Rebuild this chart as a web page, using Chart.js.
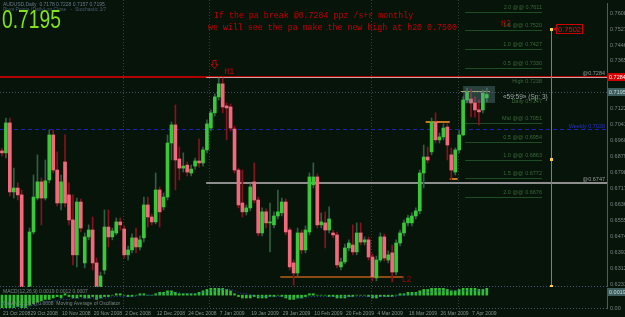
<!DOCTYPE html>
<html><head><meta charset="utf-8">
<script src="https://cdn.jsdelivr.net/npm/chart.js@4.4.0/dist/chart.umd.min.js"></script>
<style>
html,body{margin:0;padding:0;background:#06140a;overflow:hidden}
#wrap{position:relative;width:625px;height:317px;background:#06140a}
#c1{position:absolute;left:0;top:0}
#c2{position:absolute;left:0;top:287px}
</style></head><body>
<div id="wrap"><canvas id="c1" width="625" height="287"></canvas><canvas id="c2" width="625" height="30"></canvas></div>
<script>
// ---------- DATA (AUDUSD, Daily) ----------
const openP  = [0.6909,0.6899,0.7051,0.6701,0.6721,0.6686,0.6153,0.6120,0.6498,0.6670,0.6752,0.6670,0.6762,0.6990,0.6812,0.6645,0.6853,0.6686,0.6559,0.6382,
0.6650,0.6341,0.6473,0.6508,0.6341,0.6204,0.6305,0.6523,0.6473,0.6493,0.6549,0.6513,0.6382,0.6407,0.6468,0.6422,0.6468,0.6635,0.6574,0.6549,
0.6711,0.6625,0.6675,0.6949,0.7041,0.6868,0.6822,0.6837,0.6797,0.6832,0.6858,0.6848,0.6914,0.7025,0.7102,0.7183,0.7249,0.7137,0.7132,0.7020,
0.6812,0.6645,0.6600,0.6620,0.6752,0.6660,0.6493,0.6600,0.6544,0.6534,0.6579,0.6595,0.6650,0.6508,0.6341,0.6290,0.6493,0.6407,0.6498,0.6737,
0.6777,0.6534,0.6544,0.6508,0.6493,0.6483,0.6321,0.6346,0.6417,0.6432,0.6397,0.6493,0.6447,0.6458,0.6371,0.6265,0.6356,0.6473,0.6356,0.6392,
0.6295,0.6442,0.6493,0.6544,0.6544,0.6579,0.6605,0.6797,0.6878,0.6904,0.7056,0.6965,0.6980,0.7030,0.6889,0.6802,0.6914,0.6990,0.7167,0.7172,
0.7152,0.7117,0.7117,0.7178];
const highP  = [0.6924,0.7076,0.7076,0.6822,0.6747,0.6711,0.6200,0.6518,0.6787,0.6889,0.6772,0.6863,0.7015,0.7015,0.6904,0.6787,0.6990,0.6747,0.6686,0.6670,
0.6665,0.6493,0.6534,0.6574,0.6366,0.6295,0.6610,0.6610,0.6518,0.6569,0.6569,0.6529,0.6427,0.6488,0.6518,0.6478,0.6675,0.6675,0.6589,0.6797,
0.6726,0.6696,0.6990,0.7056,0.7142,0.6929,0.6899,0.6853,0.6837,0.6873,0.6970,0.6929,0.7066,0.7117,0.7198,0.7279,0.7279,0.7152,0.7147,0.7035,
0.6822,0.6812,0.6635,0.6742,0.6848,0.6675,0.6620,0.6615,0.6645,0.6600,0.6711,0.6670,0.6665,0.6518,0.6356,0.6518,0.6508,0.6529,0.6797,0.6848,
0.6792,0.6595,0.6600,0.6625,0.6508,0.6498,0.6366,0.6437,0.6458,0.6534,0.6544,0.6544,0.6473,0.6473,0.6387,0.6376,0.6493,0.6488,0.6402,0.6432,
0.6458,0.6508,0.6559,0.6584,0.6595,0.6620,0.6812,0.6939,0.6929,0.7076,0.7102,0.7000,0.7046,0.7046,0.6924,0.6924,0.7015,0.7183,0.7228,0.7223,
0.7183,0.7167,0.7218,0.7228];
const lowP   = [0.6883,0.6873,0.6681,0.6670,0.6660,0.6102,0.6010,0.6080,0.6488,0.6660,0.6534,0.6660,0.6747,0.6797,0.6630,0.6610,0.6625,0.6534,0.6331,0.6321,
0.6498,0.6316,0.6458,0.6305,0.6153,0.6163,0.6285,0.6422,0.6458,0.6483,0.6508,0.6366,0.6356,0.6392,0.6392,0.6407,0.6447,0.6523,0.6534,0.6539,
0.6523,0.6610,0.6660,0.6863,0.6711,0.6762,0.6802,0.6782,0.6782,0.6817,0.6827,0.6832,0.6899,0.7010,0.7086,0.7167,0.7102,0.6965,0.7010,0.6797,
0.6620,0.6574,0.6584,0.6605,0.6645,0.6478,0.6478,0.6518,0.6397,0.6518,0.6564,0.6579,0.6483,0.6305,0.6229,0.6275,0.6387,0.6392,0.6483,0.6721,
0.6518,0.6518,0.6417,0.6493,0.6468,0.6316,0.6305,0.6336,0.6402,0.6382,0.6382,0.6432,0.6432,0.6356,0.6250,0.6250,0.6346,0.6351,0.6341,0.6245,
0.6280,0.6427,0.6478,0.6529,0.6529,0.6564,0.6590,0.6721,0.6848,0.6889,0.6949,0.6949,0.6965,0.6863,0.6762,0.6787,0.6899,0.6985,0.7152,0.7081,
0.7081,0.7041,0.7102,0.7157];
const closeP = [0.6899,0.7051,0.6701,0.6721,0.6686,0.6153,0.6120,0.6498,0.6675,0.6752,0.6670,0.6757,0.6990,0.6812,0.6645,0.6752,0.6645,0.6559,0.6382,0.6650,
0.6518,0.6473,0.6508,0.6341,0.6204,0.6275,0.6523,0.6473,0.6503,0.6549,0.6534,0.6382,0.6407,0.6468,0.6422,0.6458,0.6635,0.6574,0.6549,0.6711,
0.6600,0.6675,0.6949,0.7041,0.6863,0.6822,0.6832,0.6802,0.6817,0.6858,0.6848,0.6914,0.7046,0.7102,0.7183,0.7249,0.7132,0.7127,0.7025,0.6812,
0.6635,0.6600,0.6620,0.6726,0.6660,0.6493,0.6600,0.6544,0.6549,0.6579,0.6600,0.6650,0.6498,0.6321,0.6290,0.6493,0.6407,0.6508,0.6777,0.6777,
0.6534,0.6549,0.6508,0.6564,0.6483,0.6331,0.6346,0.6417,0.6442,0.6397,0.6493,0.6447,0.6458,0.6371,0.6270,0.6356,0.6473,0.6366,0.6382,0.6295,
0.6442,0.6493,0.6544,0.6569,0.6579,0.6605,0.6797,0.6878,0.6863,0.7056,0.6965,0.6980,0.7025,0.6939,0.6812,0.6914,0.6990,0.7167,0.7208,0.7152,
0.7117,0.7107,0.7203,0.7195];
// oscillator panel
const histVals = [-11,-10,-11,-9, -8,-10,-9,-7,-6,-5, -4,-3,-3,-2,
 -1,-2,1,-1,-2,-2,-1,-2,-2,-1,-3,-2,-1,-1,0,1,1,0,-1,-1,
 0,1,1,0,0,1,2,2,3, 3,2,1,1,1,1,1,2, 3,4,5,6,6,5,4,3,
 1,-1,-2,-2,-2,-1,-2,-2,-2, -1,-1,0,-1,-2,-3,-3,-2,-2,-1,
 1,1,0,0,0,-1,-1,-2,-2,-2, -1,-1,0,0,0,-1,-2,-2,-1,-1,-1,-1,
 0,1,1,2,2,2,3,4,4,5,5,5,5, 4,3,3,4,5,5,5,5,4,4,5];
const signalVals = [-6,-7,-7,-8,-8,-8,-8,-8,-7,-7,-6,-5,-5,-4,
 -4,-3,-3,-3,-2,-2,-2,-2,-2,-2,-2,-2,-2,-2,-1,-1,-1,-1,-1,-1,
 -1,0,0,0,0,0,1,1,1,2,2,2,1,1,1,1,1,
 2,2,3,3,4,4,4,4,3,2,1,1,0,0,-1,-1,-1,
 -1,-1,-1,-1,-1,-1,-2,-2,-2,-2,-1,-1,-1,-1,-1,-1,-1,-1,-1,-1,-1,-1,-1,-1,-1,-1,-1,-1,-1,-1,-1,-1,
 -1,0,0,0,1,1,1,2,2,2,3,3,3,3,3,3,3,3,3,3,3,3,3,3];
// tick labels
const priceTicks = [0.7608,0.7527,0.7446,0.7365,0.7122,0.7041,0.6960,0.6879,0.6798,0.6717,0.6636,0.6555,0.6474,0.6393,0.6312,0.6231];
const dateTickIdx = [0,7,15,23,31,39,47,55,63,71,79,87,95,103,111,119];
const dateTickLbl = ['21 Oct 2008','29 Oct 2008','10 Nov 2008','20 Nov 2008','2 Dec 2008','12 Dec 2008','24 Dec 2008','7 Jan 2009',
 '19 Jan 2009','29 Jan 2009','10 Feb 2009','20 Feb 2009','4 Mar 2009','16 Mar 2009','26 Mar 2009','7 Apr 2009'];
// levels
const resistance = 0.7284, support = 0.6747, weeklyLvl = 0.7020, bidLinePrice = 0.7208, lastPriceText = '0.7195';
const l2Lvl = 0.6270, rangeTop = 0.7056, rangeBot = 0.6767, goldLvl = 0.7213, boxTop = 0.7238, boxBot = 0.7152;
const targetMarks = [0.7527, 0.6869, 0.6224], targetText = '0.7502';
const fibLevels = [0.7611,0.7520,0.7427,0.7330,0.7238,0.7051,0.6954,0.6863,0.6772,0.6676];
const fibLabels = ['2.0 @@ 0.7611','1.5 @@ 0.7520','1.0 @@ 0.7427','0.5 @@ 0.7330','High 0.7238','Mid @@ 0.7051','0.5 @@ 0.6954','1.0 @@ 0.6863','1.5 @@ 0.6772','2.0 @@ 0.6676'];
const sepIdx = [30.7, 52.6, 93.6, 115.6];

// ---------- LAYOUT / STYLE ----------
const BG = '#06140a';
const X_MIN = -0.5, X_MAX = 153.5;
const idx = openP.map((_, i) => i);
const isBull = idx.map(i => closeP[i] >= openP[i]);
const F = (s, fam) => s + 'px ' + (fam || '"Liberation Sans", Arial, sans-serif');
const MONO = '"Liberation Mono", "DejaVu Sans Mono", monospace';

function txt(ctx, s, x, y, col, font, align, base) {
  ctx.save(); ctx.fillStyle = col; ctx.font = font; ctx.textAlign = align || 'left'; ctx.textBaseline = base || 'alphabetic';
  ctx.fillText(s, x, y); ctx.restore();
}
function mkHL(ctx, ys) {
  return (x1, x2, p, col, w, dash) => {
    ctx.save(); ctx.strokeStyle = col; ctx.lineWidth = w; ctx.setLineDash(dash || []);
    let y = Math.round(ys.getPixelForValue(p)); if (w % 2 === 1) y += 0.5;
    ctx.beginPath(); ctx.moveTo(x1, y); ctx.lineTo(x2, y); ctx.stroke(); ctx.restore();
  };
}

const mainPlugin = {
  id: 'mainOv',
  beforeDraw(c) { const ctx = c.ctx; ctx.save(); ctx.fillStyle = BG; ctx.fillRect(0, 0, c.width, c.height); ctx.restore(); },
  beforeDatasetsDraw(c) {
    const ctx = c.ctx, a = c.chartArea, xs = c.scales.x, ys = c.scales.y;
    const X = v => xs.getPixelForValue(v), Y = v => ys.getPixelForValue(v);
    const hl = mkHL(ctx, ys);
    ctx.save(); ctx.strokeStyle = 'rgba(120,135,135,0.4)'; ctx.setLineDash([1, 2]); ctx.lineWidth = 1;
    sepIdx.forEach(v => { const x = Math.round(X(v)) + 0.5; ctx.beginPath(); ctx.moveTo(x, 0); ctx.lineTo(x, a.bottom); ctx.stroke(); });
    ctx.restore();
    hl(a.left, a.right, bidLinePrice, '#3a4d6e', 1, [1, 2]);
    hl(a.left, a.right, weeklyLvl, '#1d22b4', 1, [4, 3]);
    hl(a.left, a.right, resistance, '#b30000', 2);
    hl(X(51.8), a.right, resistance, '#c4a4a4', 1);
    hl(X(51.8), a.right, support, '#8e8e8e', 2);
    fibLevels.forEach((p, k) => { if (k !== 4) hl(X(117.5), X(137.0), p, '#1f4d24', 1); });
    hl(X(70.6), X(101.9), l2Lvl, '#8a4a12', 2);
    hl(X(107.5), X(113.6), rangeTop, '#c27a1e', 2);
    hl(X(113.6), X(115.6), rangeBot, '#c27a1e', 2);
    hl(X(116.4), X(123.8), goldLvl, '#b9a050', 1);
    ctx.save(); ctx.strokeStyle = '#b07818'; ctx.lineWidth = 1;
    const vx = Math.round(X(139.3)) + 0.5;
    ctx.beginPath(); ctx.moveTo(vx, Y(targetMarks[0])); ctx.lineTo(vx, Y(targetMarks[2])); ctx.stroke(); ctx.restore();
  },
  afterDatasetsDraw(c) {
    const ctx = c.ctx, xs = c.scales.x, ys = c.scales.y;
    const X = v => xs.getPixelForValue(v), Y = v => ys.getPixelForValue(v);
    ctx.save(); ctx.fillStyle = 'rgba(110,145,155,0.35)';
    const bx1 = X(117.0), bx2 = X(125.1), by1 = Y(boxTop), by2 = Y(boxBot);
    ctx.fillRect(bx1, by1, bx2 - bx1, by2 - by1); ctx.restore();
  },
  afterDraw(c) {
    const ctx = c.ctx, a = c.chartArea, xs = c.scales.x, ys = c.scales.y;
    const X = v => xs.getPixelForValue(v), Y = v => ys.getPixelForValue(v);
    ctx.save(); ctx.strokeStyle = '#45557a'; ctx.setLineDash([1, 2]); ctx.lineWidth = 1;
    ctx.beginPath(); ctx.moveTo(a.left, a.bottom - 0.5); ctx.lineTo(a.right, a.bottom - 0.5); ctx.stroke(); ctx.restore();
    txt(ctx, 'AUDUSD,Daily  0.7178 0.7228 0.7157 0.7195', 3, 6, '#6a7a90', F(5));
    txt(ctx, 'Pivot Points (Daily) on Close   -  Stochastic 3/7', 3, 11, '#4a5a70', F(5));
    ctx.save(); ctx.translate(2, 28); ctx.scale(0.74, 1); txt(ctx, lastPriceText, 0, 0, '#82e21c', F(26)); ctx.restore();
    txt(ctx, 'If the pa break @0.7284 ppz /s+r monthly', 214, 18, '#c40000', F(8.3, MONO));
    txt(ctx, 'we will see the pa make the new high at h20 0.7500', 208, 30, '#c40000', F(8.3, MONO));
    txt(ctx, 'H2', X(126.6), Y(0.7560) + 3, '#c40000', F(8.3, MONO));
    txt(ctx, 'H1', X(56.4), Y(0.7314) + 3, '#c40000', F(8.3, MONO));
    txt(ctx, 'L2', X(101.4), Y(0.6260) + 3, '#a00000', F(8.3, MONO));
    ctx.save(); ctx.strokeStyle = '#c40000'; ctx.lineWidth = 1;
    const ax = Math.round(X(53.9)) + 0.5, ay = Math.round(Y(0.7350)) + 0.5;
    ctx.beginPath(); ctx.moveTo(ax - 1.5, ay - 4); ctx.lineTo(ax + 1.5, ay - 4); ctx.lineTo(ax + 1.5, ay); ctx.lineTo(ax + 3.5, ay);
    ctx.lineTo(ax, ay + 4); ctx.lineTo(ax - 3.5, ay); ctx.lineTo(ax - 1.5, ay); ctx.closePath(); ctx.stroke(); ctx.restore();
    fibLevels.forEach((p, k) => txt(ctx, fibLabels[k], X(137.0), Y(p) - 3, '#3a6a36', F(5.5), 'right'));
    txt(ctx, 'Daily 0.7147', X(137.0), Y(0.7147) - 1, '#3a6a36', F(5.5), 'right');
    txt(ctx, '\u00ab59:59\u00bb (Sp: 3)', X(127.1), Y(0.7183) + 2, '#a0a8a8', F(6.5));
    txt(ctx, '@0.7284', a.right - 2, Y(resistance) - 2, '#9a9a9a', F(5.5), 'right');
    txt(ctx, '@0.6747', a.right - 2, Y(support) - 2, '#9a9a9a', F(5.5), 'right');
    txt(ctx, 'Weekly 0.7020', a.right - 2, Y(weeklyLvl) - 1, '#2a30d0', F(5.5), 'right');
    const vx = X(139.3);
    ctx.save(); ctx.fillStyle = '#ffd24a';
    targetMarks.forEach(p => ctx.fillRect(Math.round(vx) - 1, Math.round(Y(p)) - 1, 3, 3)); ctx.restore();
    const ty = Math.round(Y(targetMarks[0]));
    ctx.save(); ctx.fillStyle = '#d00000';
    ctx.beginPath(); ctx.moveTo(vx + 2, ty); ctx.lineTo(vx + 5, ty - 2); ctx.lineTo(vx + 5, ty + 2); ctx.closePath(); ctx.fill();
    ctx.strokeStyle = '#d00000'; ctx.lineWidth = 1; ctx.strokeRect(Math.round(vx) + 5.5, ty - 4.5, 26, 9); ctx.restore();
    txt(ctx, targetText, vx + 18.5, ty + 0.5, '#e01010', F(7.5), 'center', 'middle');
    priceTicks.forEach(v => txt(ctx, v.toFixed(4), a.right + 3, Y(v), '#7c8484', F(5.5), 'left', 'middle'));
    const ry = Math.round(Y(resistance));
    ctx.save(); ctx.fillStyle = '#d20000'; ctx.fillRect(a.right, ry - 4, 18, 8); ctx.restore();
    txt(ctx, '0.7284', a.right + 2, ry + 0.5, '#ffffff', F(5.5), 'left', 'middle');
    const by = Math.round(Y(bidLinePrice));
    ctx.save(); ctx.fillStyle = '#3f5e5e'; ctx.fillRect(a.right, by - 4, 18, 8); ctx.restore();
    txt(ctx, lastPriceText, a.right + 2, by + 0.5, '#c8dada', F(5.5), 'left', 'middle');
  }
};

new Chart(document.getElementById('c1'), {
  type: 'bar',
  data: { datasets: [
    { data: idx.map(i => ({ x: i, y: [lowP[i], highP[i]] })), backgroundColor: idx.map(i => isBull[i] ? '#2f6040' : '#8c1020'),
      barThickness: 1, grouped: false, order: 2 },
    { data: idx.map(i => ({ x: i, y: [openP[i], closeP[i]] })), backgroundColor: idx.map(i => isBull[i] ? '#3ac83a' : '#f4687c'),
      barThickness: 3, minBarLength: 1, grouped: false, order: 1 }
  ]},
  options: {
    responsive: false, animation: false, events: [],
    layout: { padding: { top: 3, bottom: 0, left: 0, right: 0 } },
    plugins: { legend: { display: false }, tooltip: { enabled: false } },
    scales: {
      x: { type: 'linear', min: X_MIN, max: X_MAX, offset: false, display: false },
      y: { type: 'linear', position: 'right', min: 0.6219, max: 0.7659, grid: { display: false },
           border: { display: true, color: '#4f5c5c' }, ticks: { display: false }, afterFit(s) { s.width = 18; } }
    }
  },
  plugins: [mainPlugin]
});

const indPlugin = {
  id: 'indOv',
  beforeDraw(c) { const ctx = c.ctx; ctx.save(); ctx.fillStyle = BG; ctx.fillRect(0, 0, c.width, c.height); ctx.restore(); },
  beforeDatasetsDraw(c) {
    const ctx = c.ctx, a = c.chartArea, xs = c.scales.x;
    ctx.save(); ctx.strokeStyle = 'rgba(120,135,135,0.4)'; ctx.setLineDash([1, 2]); ctx.lineWidth = 1;
    sepIdx.forEach(v => { const x = Math.round(xs.getPixelForValue(v)) + 0.5; ctx.beginPath(); ctx.moveTo(x, a.top); ctx.lineTo(x, a.bottom); ctx.stroke(); });
    ctx.restore();
  },
  afterDraw(c) {
    const ctx = c.ctx, a = c.chartArea, xs = c.scales.x, ys = c.scales.y;
    ctx.save(); ctx.strokeStyle = '#45557a'; ctx.setLineDash([1, 2]); ctx.lineWidth = 1;
    ctx.beginPath(); ctx.moveTo(a.left, a.bottom + 0.5); ctx.lineTo(a.right, a.bottom + 0.5); ctx.stroke(); ctx.restore();
    txt(ctx, 'MACD(12,26,9) 0.0019 0.0012 0.0007', 3, 6, '#7a8484', F(5));
    txt(ctx, 'OsMA(12,26,9) 0.0008  Moving Average of Oscillator', 3, 18, '#7a8484', F(5));
    dateTickIdx.forEach((v, k) => txt(ctx, dateTickLbl[k], xs.getPixelForValue(v) + 1, a.bottom + 6, '#889090', F(5), 'left', 'middle'));
    const zy = Math.round(ys.getPixelForValue(2));
    ctx.save(); ctx.fillStyle = '#3f5e5e'; ctx.fillRect(a.right, zy - 4, 18, 8); ctx.restore();
    txt(ctx, '0.0019', a.right + 2, zy + 0.5, '#c8dada', F(5.5), 'left', 'middle');
    txt(ctx, '0.00', a.right + 3, a.bottom, '#7c8484', F(5.5), 'left', 'middle');
  }
};

new Chart(document.getElementById('c2'), {
  type: 'bar',
  data: { datasets: [
    { type: 'bar', data: idx.map(i => ({ x: i, y: histVals[i] })), backgroundColor: '#2fbf2f', barThickness: 2, grouped: false, order: 2 },
    { type: 'line', data: idx.map(i => ({ x: i, y: signalVals[i] })), borderColor: '#2a50c0', borderWidth: 1, borderDash: [1, 2],
      pointRadius: 0, tension: 0, fill: false, order: 1 }
  ]},
  options: {
    responsive: false, animation: false, events: [],
    layout: { padding: { top: 1, bottom: 9, left: 0, right: 0 } },
    plugins: { legend: { display: false }, tooltip: { enabled: false } },
    scales: {
      x: { type: 'linear', min: X_MIN, max: X_MAX, offset: false, display: false },
      y: { type: 'linear', position: 'right', min: -9, max: 5, grid: { display: false },
           border: { display: true, color: '#4f5c5c' }, ticks: { display: false }, afterFit(s) { s.width = 18; } }
    }
  },
  plugins: [indPlugin]
});
</script>
</body></html>
